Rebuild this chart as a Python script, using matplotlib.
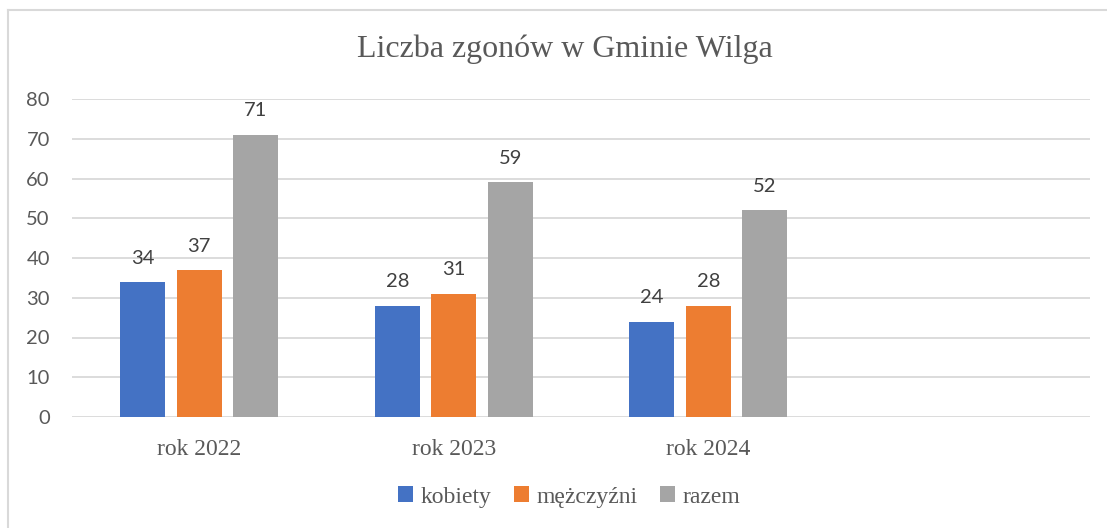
import matplotlib
matplotlib.use("Agg")
import matplotlib.pyplot as plt
from matplotlib.lines import Line2D
import numpy as np

categories = ["rok 2022", "rok 2023", "rok 2024", ""]
series_names = ["kobiety", "mężczyźni", "razem"]
kobiety = [34, 28, 24]
mezczyzni = [37, 31, 28]
razem = [71, 59, 52]
yticks = [0, 10, 20, 30, 40, 50, 60, 70, 80]

colors = ["#4472C4", "#ED7D31", "#A5A5A5"]
text_color = "#595959"
grid_color = "#D9D9D9"

W, H = 1107, 528
fig = plt.figure(figsize=(W / 100, H / 100), dpi=100)
ax = fig.add_axes([72 / W, 1 - 417 / H, (1090 - 72) / W, (417 - 99) / H])

x = np.arange(len(categories))
bw = 0.176
offsets = [-0.222, 0.0, 0.222]
all_series = [kobiety, mezczyzni, razem]
for s, (vals, off, col, name) in enumerate(zip(all_series, offsets, colors, series_names)):
    xs = x[:len(vals)] + off
    bars = ax.bar(xs, vals, width=bw, color=col, label=name, zorder=3)
    for b, v in zip(bars, vals):
        ax.annotate(str(v), (b.get_x() + b.get_width() / 2, v),
                    xytext=(0, 11), textcoords="offset points",
                    ha="center", va="bottom", fontsize=14.5, color="#404040",
                    family="Lato")

ax.set_xlim(-0.5, len(categories) - 0.5)
ax.set_ylim(0, 80)
ax.set_yticks(yticks)
ax.set_yticklabels([str(t) for t in yticks], fontsize=14.5, color=text_color, family="Lato")
ax.set_xticks(x[:3])
ax.set_xticklabels(categories[:3], fontsize=17, color=text_color, family="Liberation Serif")
ax.tick_params(axis="both", length=0)
ax.tick_params(axis="y", pad=16)
ax.tick_params(axis="x", pad=16)
ax.yaxis.grid(True, color=grid_color, linewidth=1.3, zorder=0)
ax.set_axisbelow(True)
for sp in ax.spines.values():
    sp.set_visible(False)

fig.text(565 / W, 1 - 49 / H, "Liczba zgonów w Gminie Wilga", ha="center", va="center",
         fontsize=23, color=text_color, family="Liberation Serif")

leg = fig.legend(loc="center", bbox_to_anchor=(569 / W, 1 - 497 / H), ncol=3, frameon=False,
                 prop={"family": "Liberation Serif", "size": 17},
                 handlelength=0.65, handleheight=0.65, handletextpad=0.3, columnspacing=0.95)
for t in leg.get_texts():
    t.set_color(text_color)

fig.add_artist(Line2D([8 / W, 1], [1 - 10 / H, 1 - 10 / H], color=grid_color, lw=1.5))
fig.add_artist(Line2D([8 / W, 8 / W], [0, 1 - 10 / H], color=grid_color, lw=1.5))

fig.savefig("out.png", dpi=100)
